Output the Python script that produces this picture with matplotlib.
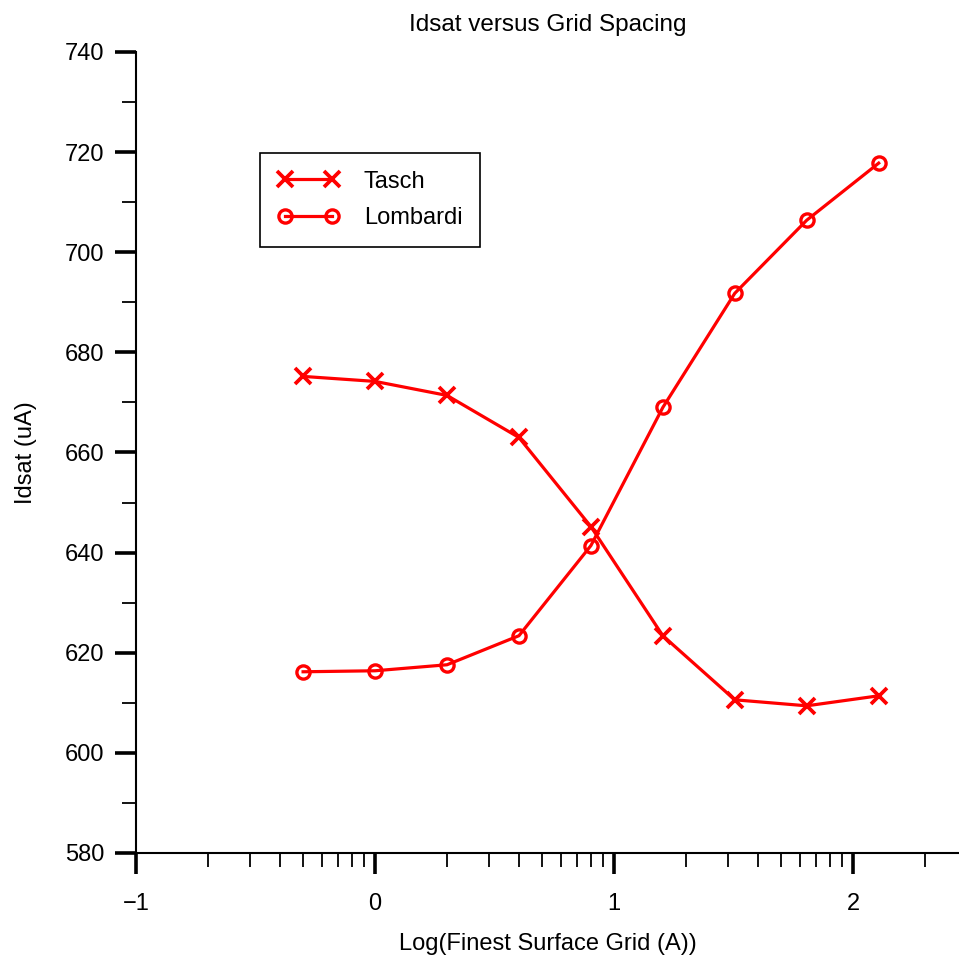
import numpy as np
import matplotlib
matplotlib.use('Agg')
import matplotlib.pyplot as plt
from matplotlib.ticker import FixedLocator, MultipleLocator

# log10 of finest surface grid spacing
grid_log = [-0.301, 0.0, 0.301, 0.602, 0.903, 1.204, 1.505, 1.806, 2.107]
tasch = [675.2, 674.2, 671.4, 663.0, 645.2, 623.4, 610.6, 609.4, 611.4]
lombardi = [616.2, 616.4, 617.6, 623.4, 641.4, 669.0, 691.8, 706.4, 717.8]
series_names = ['Tasch', 'Lombardi']
xticks = [-1, 0, 1, 2]
yticks = [580, 600, 620, 640, 660, 680, 700, 720, 740]

plt.rcParams['font.family'] = ['Liberation Sans', 'DejaVu Sans']
fs = 17

fig = plt.figure(figsize=(9.59, 9.61), dpi=100)
ax = fig.add_axes([136/959, 108/961, 823/959, 801/961])

ax.plot(grid_log, tasch, color='red', lw=2.3, marker='x', ms=11, mew=2.7,
        label=series_names[0])
ax.plot(grid_log, lombardi, color='red', lw=2.3, marker='o', ms=9.5, mew=2.4,
        mfc='none', label=series_names[1])

ax.set_xlim(-1, 2.443)
ax.set_ylim(580, 740)

ax.spines['top'].set_visible(False)
ax.spines['right'].set_visible(False)
ax.spines['left'].set_linewidth(1.5)
ax.spines['bottom'].set_linewidth(1.5)

ax.set_xticks(xticks)
ax.set_yticks(yticks)
ax.set_xticklabels(['\u22121', '0', '1', '2'])
# log-style minor ticks inside each decade
minor_x = [d + np.log10(k) for d in [-1, 0, 1, 2] for k in range(2, 10)]
ax.xaxis.set_minor_locator(FixedLocator(minor_x))
ax.yaxis.set_minor_locator(MultipleLocator(10))
ax.tick_params(which='major', direction='out', length=15, width=2.6,
               labelsize=fs, pad=8)
ax.tick_params(axis='x', which='major', pad=14)
ax.tick_params(which='minor', direction='out', length=10, width=1.3)

ax.set_title('Idsat versus Grid Spacing', fontsize=fs + 0.5, pad=15)
ax.set_xlabel('Log(Finest Surface Grid (A))', fontsize=fs, labelpad=13)
ax.set_ylabel('Idsat (uA)', fontsize=fs, labelpad=20)

leg = ax.legend(loc='upper left', bbox_to_anchor=(0.1507, 0.874),
                borderaxespad=0, fancybox=False, edgecolor='black',
                framealpha=1, fontsize=fs, numpoints=2, handlelength=2.6,
                borderpad=0.75, labelspacing=0.6, handletextpad=1.05)
leg.get_frame().set_linewidth(1.2)

fig.savefig('out.png', dpi=100)
